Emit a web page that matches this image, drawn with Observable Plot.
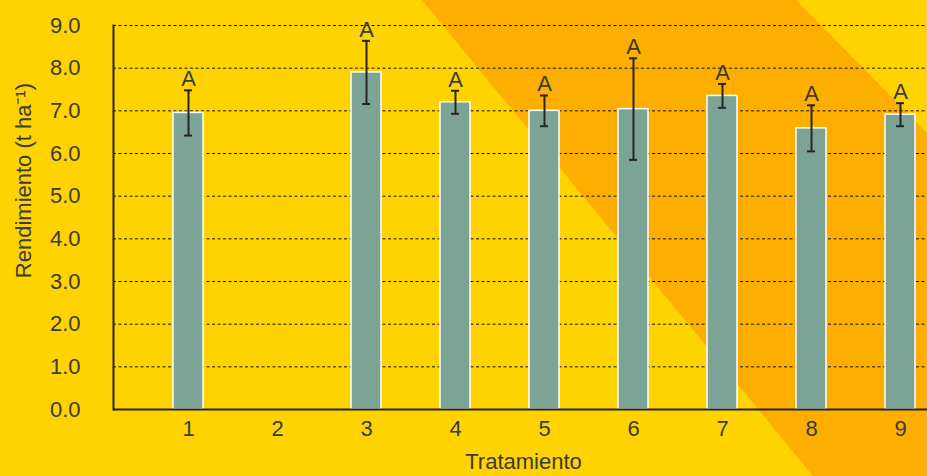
<!DOCTYPE html>
<html lang="es">
<head>
<meta charset="utf-8">
<script src="https://cdn.jsdelivr.net/npm/d3@7"></script>
<script src="https://cdn.jsdelivr.net/npm/@observablehq/plot@0.6"></script>
<style>
  html, body { margin: 0; padding: 0; }
  body {
    width: 927px; height: 476px; overflow: hidden; position: relative;
    background: #FED300;
    font-family: "Liberation Sans", Arial, sans-serif;
  }
  /* diagonal orange band behind the chart */
  .banda {
    position: absolute; inset: 0;
    background: #FDAE00;
    clip-path: polygon(422px 0, 796px 0, 927px 133px, 927px 476px, 813px 476px);
  }
  #chart { position: absolute; left: 0; top: 0; }
</style>
</head>
<body>
<div class="banda"></div>
<div id="chart"></div>
<script>
// Rendimiento medio por tratamiento, con su error y la letra de agrupación
const tratamientos = ["1", "2", "3", "4", "5", "6", "7", "8", "9"];
const rendimiento = [6.95, null, 7.90, 7.20, 7.00, 7.04, 7.35, 6.59, 6.91];
const error = [0.53, null, 0.74, 0.27, 0.36, 1.19, 0.28, 0.54, 0.27];
const letras = ["A", null, "A", "A", "A", "A", "A", "A", "A"];
const yTicks = [0, 1, 2, 3, 4, 5, 6, 7, 8, 9];

const filas = tratamientos
  .map((t, i) => ({t, v: rendimiento[i], e: error[i], letra: letras[i]}))
  .filter(d => d.v != null);

const tinta = "#262626";
const texto = "#3b3b3b";

const chart = Plot.plot({
  width: 927,
  height: 476,
  marginLeft: 113,
  marginRight: 0,
  marginTop: 25,
  marginBottom: 67,
  style: {
    background: "transparent",
    fontFamily: "'Liberation Sans', Arial, sans-serif",
    fontSize: "22px",
    color: texto,
    overflow: "hidden"
  },
  x: {domain: tratamientos, range: [142.7, 945.5], paddingInner: 0.663, paddingOuter: 0.3315, align: 0.5, label: null},
  y: {domain: [0, 9], label: null},
  marks: [
    Plot.gridY(yTicks, {stroke: "#111", strokeOpacity: 1, strokeWidth: 1, strokeDasharray: "3,2.5"}),
    Plot.barY(filas, {x: "t", y: "v", fill: "#7BA396", stroke: "white", strokeWidth: 1.5}),
    Plot.ruleX(filas, {x: "t", y1: d => d.v - d.e, y2: d => d.v + d.e, stroke: tinta, strokeWidth: 2}),
    Plot.tickY(filas, {x: "t", y: d => d.v + d.e, insetLeft: 11, insetRight: 11, stroke: tinta, strokeWidth: 2}),
    Plot.tickY(filas, {x: "t", y: d => d.v - d.e, insetLeft: 11, insetRight: 11, stroke: tinta, strokeWidth: 2}),
    Plot.text(filas, {x: "t", y: d => d.v + d.e, text: "letra", lineAnchor: "bottom", dy: -4, fontSize: 22, fill: texto}),
    Plot.axisY(yTicks, {tickSize: 0, tickPadding: 33, tickFormat: d => d.toFixed(1), fontSize: 22, label: null}),
    Plot.axisX({tickSize: 0, tickPadding: 11, fontSize: 22, label: null}),
    Plot.ruleY([0], {stroke: tinta, strokeWidth: 2}),
    Plot.frame({anchor: "left", stroke: tinta, strokeWidth: 2}),
    Plot.text(["Rendimiento (t ha⁻¹)"], {frameAnchor: "left", rotate: -90, dx: -90, dy: -37, textAnchor: "middle", lineAnchor: "middle", fontSize: 22, fill: texto}),
    Plot.text(["Tratamiento"], {frameAnchor: "bottom", dx: 3, dy: 59, lineAnchor: "bottom", fontSize: 22, fill: texto})
  ]
});

document.getElementById("chart").appendChild(chart);
</script>
</body>
</html>
